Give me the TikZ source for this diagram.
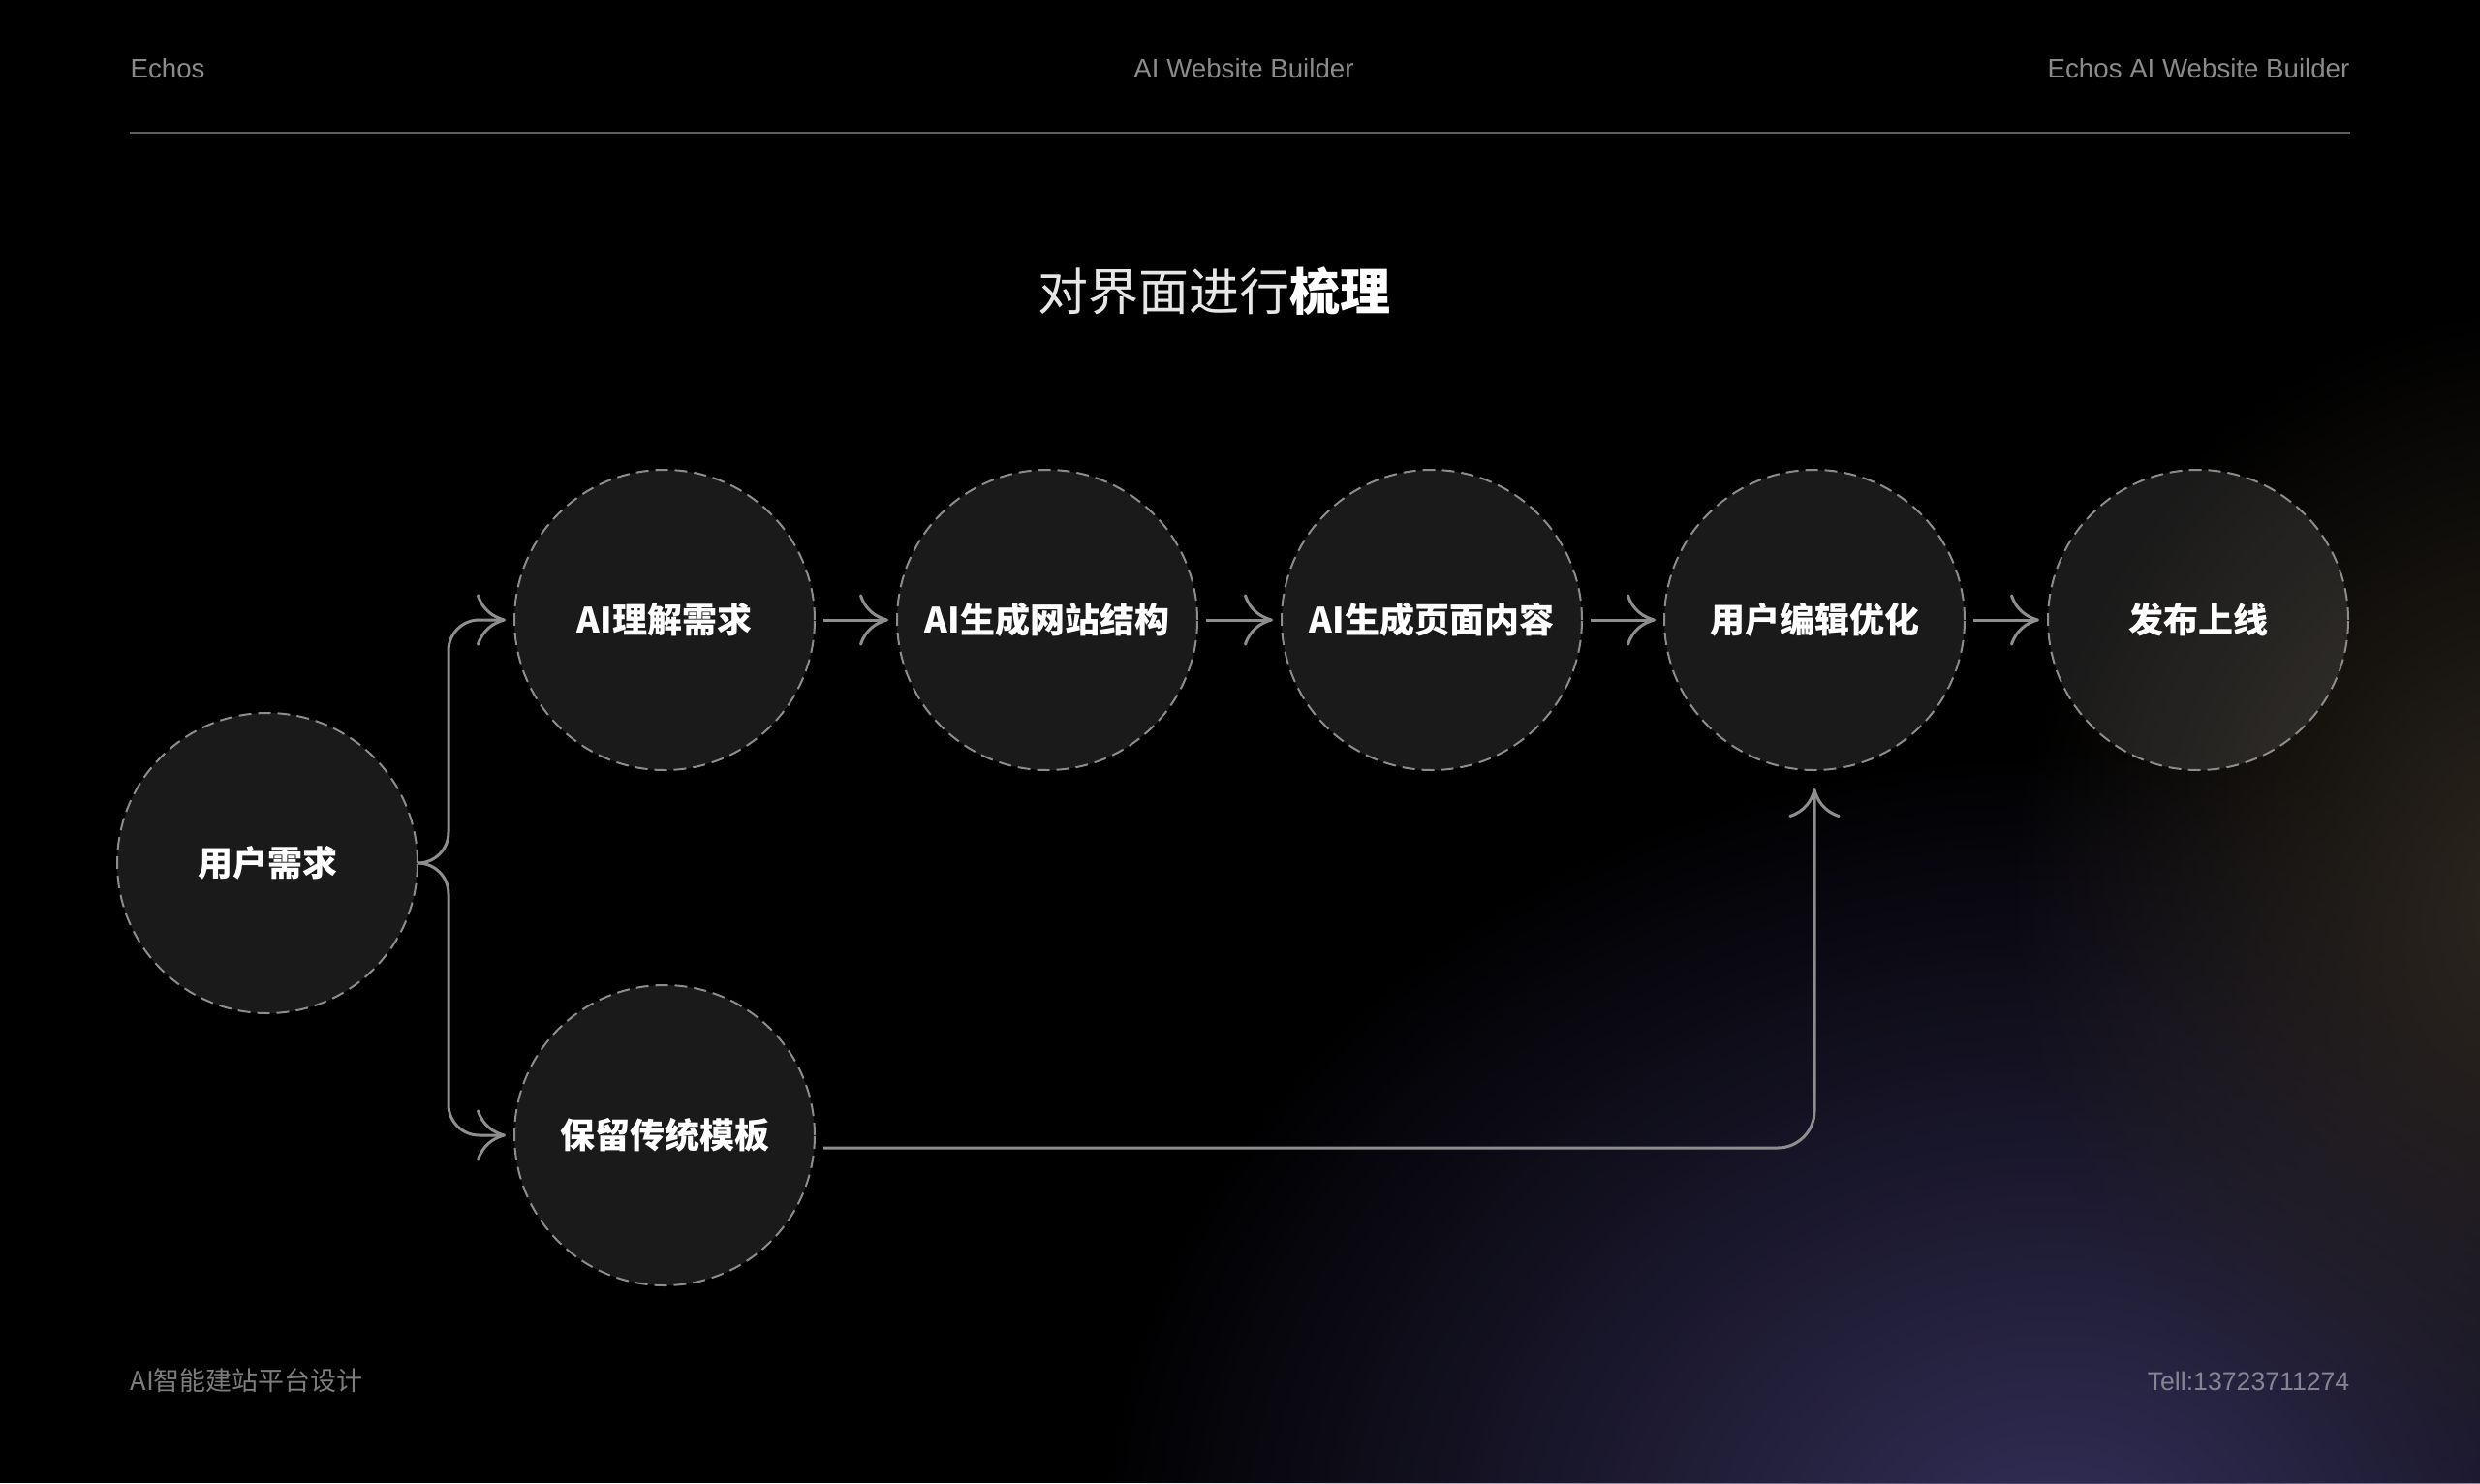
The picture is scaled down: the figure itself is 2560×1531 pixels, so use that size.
\documentclass[tikz,border=0pt]{standalone}
\usepackage{fontspec}
\setmainfont{Liberation Sans}
\newfontfamily\cjk{Noto Sans CJK SC}
\usetikzlibrary{arrows.meta,calc,fadings}
\definecolor{bgpurple}{HTML}{35305A}
\definecolor{bgbrown}{HTML}{2E2820}
\definecolor{headgrey}{HTML}{8A8A8A}
\definecolor{rulegrey}{HTML}{5E5E5E}
\definecolor{dashgrey}{HTML}{8C8C8C}
\definecolor{conngrey}{HTML}{8E8E8E}
\definecolor{footgrey}{HTML}{7C7C7C}
\definecolor{telgrey}{HTML}{858592}
\definecolor{titlegrey}{HTML}{E6E6E6}
\tikzfading[name=glowfade, inner color=transparent!0, outer color=transparent!100]
\tikzset{
  stage/.style={circle, minimum size=93pt, inner sep=0pt, fill=white, fill opacity=0.1,
    text opacity=1, draw=dashgrey, draw opacity=1, line width=0.6pt,
    dash pattern=on 3.9pt off 2.1pt, text=white,
    font=\cjk\bfseries\fontsize{10.8pt}{13pt}\selectfont},
  conn/.style={draw=conngrey, line width=0.9pt,
    -{Computer Modern Rightarrow[length=9pt,width=16pt]}},
  hdr/.style={text=headgrey, inner sep=0pt, font=\fontsize{8.3pt}{10pt}\selectfont},
}
\begin{document}
\begin{tikzpicture}[x=0.3pt,y=-0.3pt]
\useasboundingbox (0,0) rectangle (2560,1531);
\fill[black] (0,0) rectangle (2560,1531);
\begin{scope}
  \clip (0,0) rectangle (2560,1531);
  \fill[bgpurple, path fading=glowfade] (2120,1620) ellipse [x radius=1000, y radius=850];
  \fill[bgbrown, path fading=glowfade] (2630,930) ellipse [x radius=560, y radius=620];
\end{scope}

% header
\node[hdr, anchor=base west] (h1) at (134,80) {Echos};
\node[hdr, anchor=base] (h2) at (1284,80) {AI Website Builder};
\node[hdr, anchor=base east] (h3) at (2426,80) {Echos AI Website Builder};
\draw[rulegrey, line width=0.5pt] (134,137) -- (2426,137);

% title
\node[anchor=base, inner sep=0pt, text=white, font=\cjk\fontsize{15.6pt}{18pt}\selectfont] (title) at (1253,320)
  {{\color{titlegrey}对界面进行}\textbf{梳理}};

% stages
\node[stage] (A) at (276,891) {用户需求};
\node[stage] (B) at (686,640) {AI理解需求};
\node[stage] (C) at (1081,640) {AI生成网站结构};
\node[stage] (D) at (1478,640) {AI生成页面内容};
\node[stage] (E) at (1873,640) {用户编辑优化};
\node[stage] (F) at (2269,640) {发布上线};
\node[stage] (G) at (686,1172) {保留传统模板};

% connectors
\coordinate (jA) at (463,891);
\draw[conn, rounded corners=9.5pt, shorten >=2.4pt] (A.east) -- (jA) |- (B.west);
\draw[conn, rounded corners=9.5pt, shorten >=2.4pt] (A.east) -- (jA) |- (G.west);
\draw[conn, shorten <=2.4pt, shorten >=2.4pt] (B) -- (C);
\draw[conn, shorten <=2.4pt, shorten >=2.4pt] (C) -- (D);
\draw[conn, shorten <=2.4pt, shorten >=2.4pt] (D) -- (E);
\draw[conn, shorten <=2.4pt, shorten >=2.4pt] (E) -- (F);
\draw[conn, rounded corners=11.4pt, shorten >=5.4pt] ($(G.east)+(8,13)$) -| (E.south);

% footer
\node[anchor=base west, inner sep=0pt, text=footgrey, font=\cjk\fontsize{8.1pt}{10pt}\selectfont] (f1) at (134,1435) {AI智能建站平台设计};
\node[anchor=base east, inner sep=0pt, text=telgrey, font=\fontsize{8pt}{10pt}\selectfont] (f2) at (2426,1435) {Tell:13723711274};
\end{tikzpicture}
\end{document}
